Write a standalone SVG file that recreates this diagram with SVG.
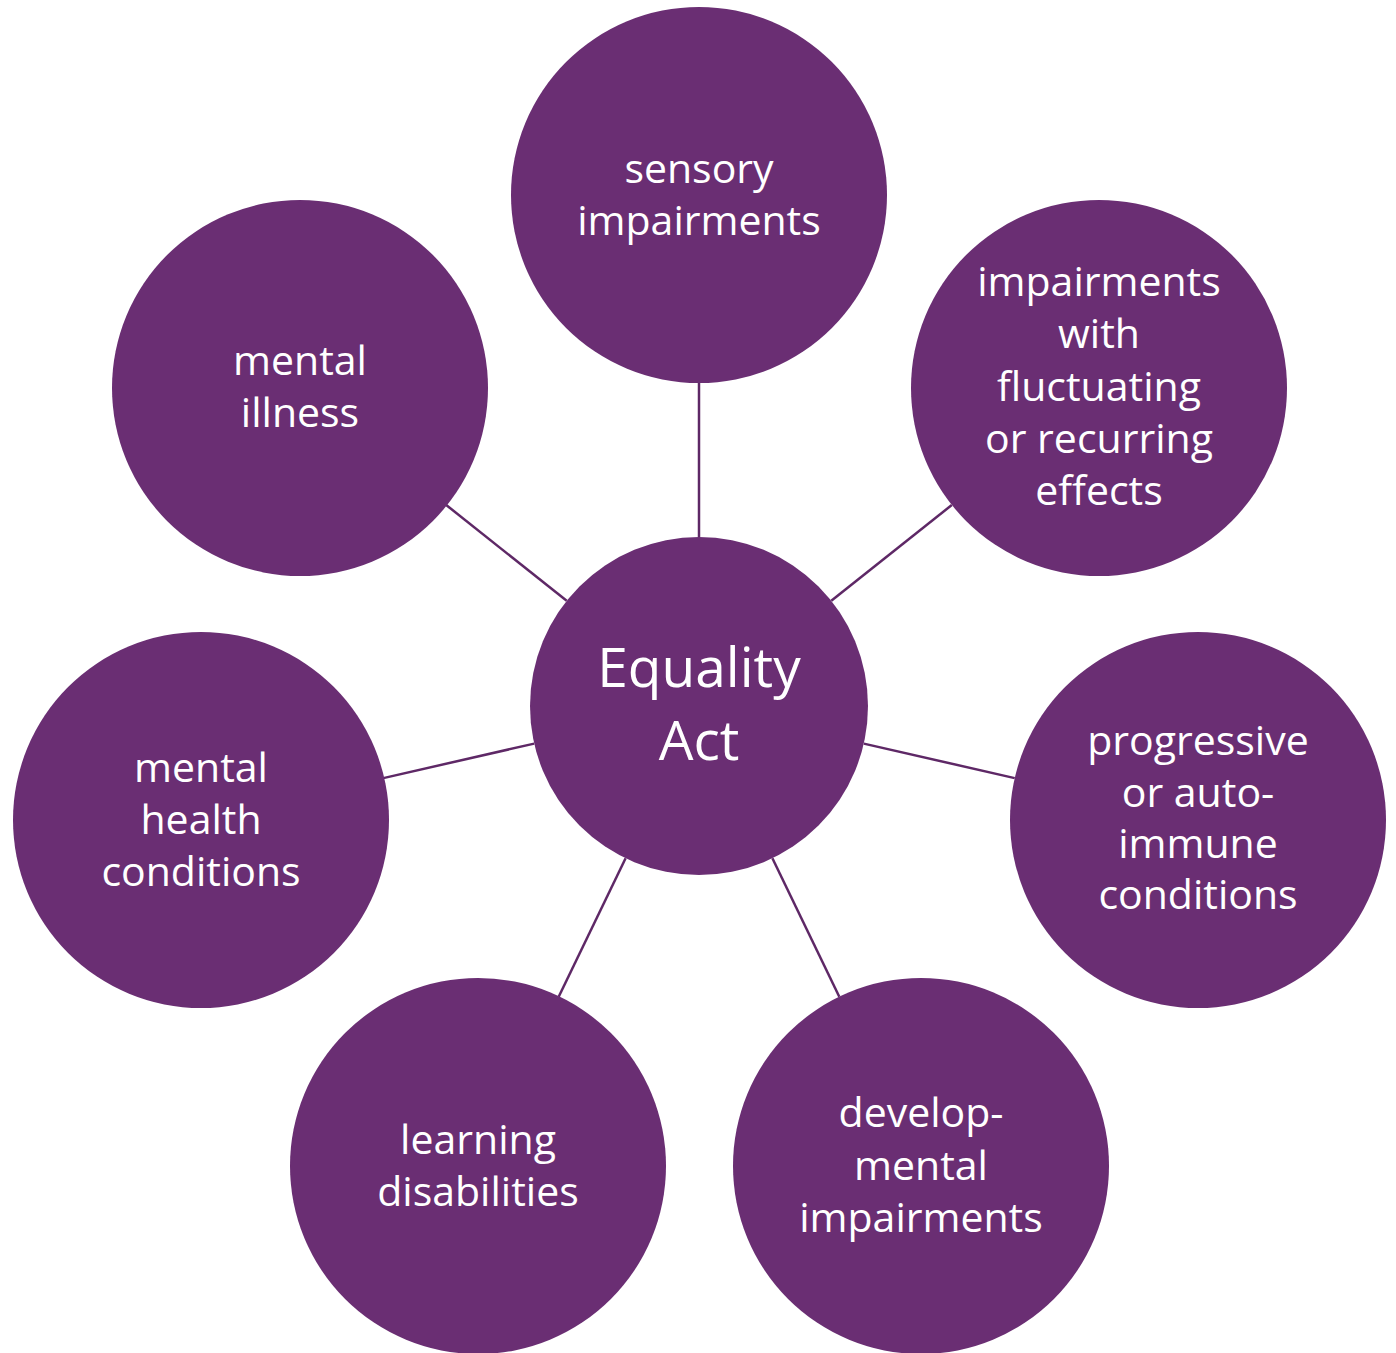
<svg xmlns="http://www.w3.org/2000/svg" width="1396" height="1353" viewBox="0 0 1396 1353">
  <style>
    .node { fill: #6A2E73; }
    .conn { stroke: #5E2866; stroke-width: 2.5; fill: none; }
    .lbl { font-family: "Open Sans", "Noto Sans", "Liberation Sans", sans-serif; font-size: 41px; fill: #FFFFFF; text-anchor: middle; }
    .lbl-c { font-family: "Open Sans", "Noto Sans", "Liberation Sans", sans-serif; font-size: 55px; fill: #FFFFFF; text-anchor: middle; }
  </style>
  <rect width="1396" height="1353" fill="#FFFFFF"/>
  <g id="connectors">
    <line class="conn" x1="699" y1="537" x2="699" y2="383"/>
    <line class="conn" x1="831.3" y1="600.8" x2="951.8" y2="505.0"/>
    <line class="conn" x1="863.8" y1="743.6" x2="1014.7" y2="778.1"/>
    <line class="conn" x1="772.4" y1="858.2" x2="839.3" y2="996.7"/>
    <line class="conn" x1="625.6" y1="858.2" x2="558.7" y2="996.7"/>
    <line class="conn" x1="534.2" y1="743.6" x2="383.3" y2="778.1"/>
    <line class="conn" x1="566.7" y1="600.8" x2="446.2" y2="505.0"/>
  </g>
  <g id="node-center">
    <circle class="node" cx="699" cy="706" r="169"/>
    <text class="lbl-c" x="699" y="687">Equality</text>
    <text class="lbl-c" x="699" y="760">Act</text>
  </g>
  <g id="node-sensory">
    <circle class="node" cx="699" cy="195" r="188"/>
    <text class="lbl" x="699" y="183">sensory</text>
    <text class="lbl" x="699" y="235">impairments</text>
  </g>
  <g id="node-fluctuating">
    <circle class="node" cx="1099" cy="388" r="188"/>
    <text class="lbl" x="1099" y="296">impairments</text>
    <text class="lbl" x="1099" y="348">with</text>
    <text class="lbl" x="1099" y="401">fluctuating</text>
    <text class="lbl" x="1099" y="453">or recurring</text>
    <text class="lbl" x="1099" y="505">effects</text>
  </g>
  <g id="node-progressive">
    <circle class="node" cx="1198" cy="820" r="188"/>
    <text class="lbl" x="1198" y="755">progressive</text>
    <text class="lbl" x="1198" y="807">or auto-</text>
    <text class="lbl" x="1198" y="858">immune</text>
    <text class="lbl" x="1198" y="909">conditions</text>
  </g>
  <g id="node-developmental">
    <circle class="node" cx="921" cy="1166" r="188"/>
    <text class="lbl" x="921" y="1127">develop-</text>
    <text class="lbl" x="921" y="1180">mental</text>
    <text class="lbl" x="921" y="1232">impairments</text>
  </g>
  <g id="node-learning">
    <circle class="node" cx="478" cy="1166" r="188"/>
    <text class="lbl" x="478" y="1154">learning</text>
    <text class="lbl" x="478" y="1206">disabilities</text>
  </g>
  <g id="node-mental-health">
    <circle class="node" cx="201" cy="820" r="188"/>
    <text class="lbl" x="201" y="782">mental</text>
    <text class="lbl" x="201" y="834">health</text>
    <text class="lbl" x="201" y="886">conditions</text>
  </g>
  <g id="node-mental-illness">
    <circle class="node" cx="300" cy="388" r="188"/>
    <text class="lbl" x="300" y="375">mental</text>
    <text class="lbl" x="300" y="427">illness</text>
  </g>
</svg>
